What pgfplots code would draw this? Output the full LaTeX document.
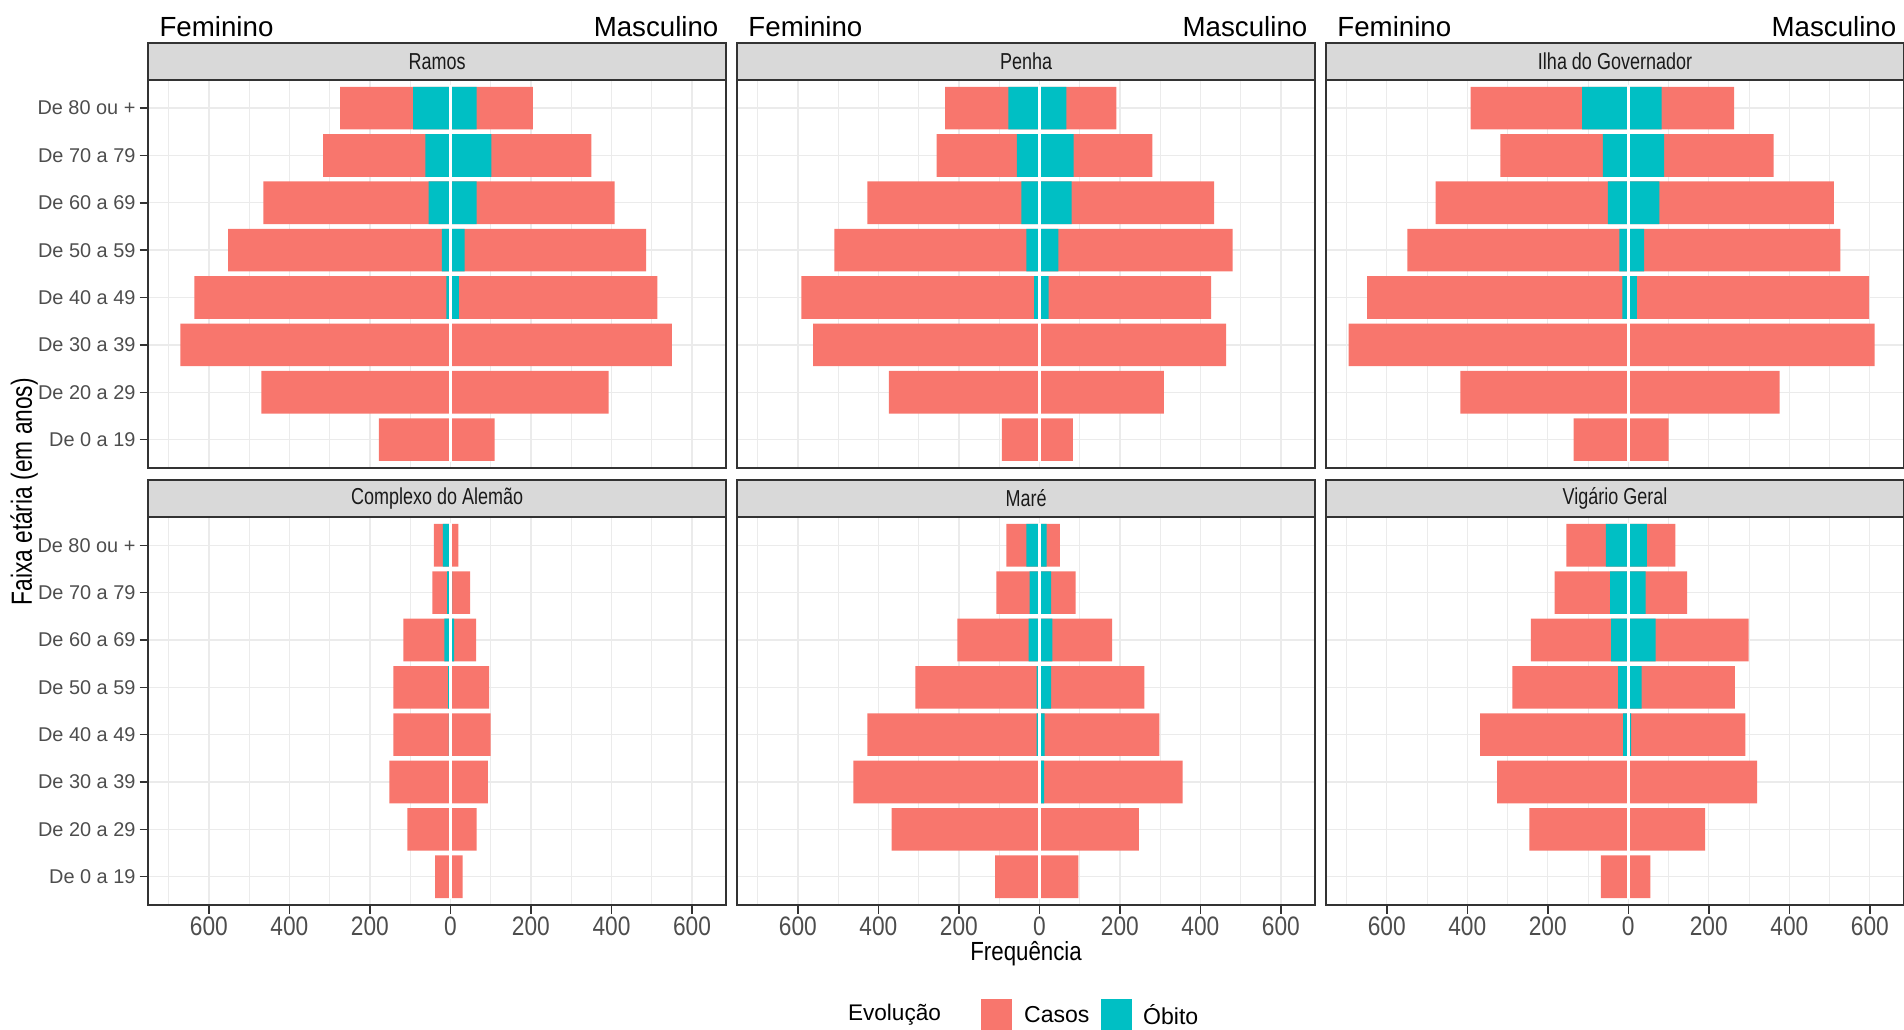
\documentclass[border=0pt]{standalone}
\usepackage{fontspec}
\setmainfont{Liberation Sans}
\newfontfamily\stripfont{Liberation Sans}[FakeStretch=0.78]
\newfontfamily\tickfont{Liberation Sans}[FakeStretch=0.85]
\usepackage{pgfplots}
\pgfplotsset{compat=1.18}
\usepackage{pgfplotstable}

\definecolor{casos}{HTML}{F8766D}
\definecolor{obito}{HTML}{00BFC4}
\definecolor{grey10}{HTML}{1A1A1A}
\definecolor{grey20}{HTML}{333333}
\definecolor{grey30}{HTML}{4D4D4D}
\definecolor{grey85}{HTML}{D9D9D9}
\definecolor{grey92}{HTML}{EBEBEB}

% y: age class (1 = 0-19 ... 8 = 80+); fc/fo: female cases/deaths; mc/mo: male cases/deaths
\pgfplotstableread{
y fc fo mc mo
1 178 0 110 0
2 470 0 393 0
3 671 2 550 2
4 636 10 514 21
5 552 21 486 35
6 465 54 408 65
7 316 62 350 102
8 274 93 205 65
}\ramos
\pgfplotstableread{
y fc fo mc mo
1 93 0 83 0
2 374 0 309 0
3 562 3 464 3
4 591 13 427 23
5 509 32 480 47
6 427 45 434 80
7 255 56 281 85
8 234 77 191 67
}\penha
\pgfplotstableread{
y fc fo mc mo
1 136 0 100 0
2 417 0 376 0
3 695 2 612 2
4 649 15 598 21
5 549 22 527 39
6 479 51 511 77
7 318 63 361 89
8 392 115 263 83
}\ilha
\pgfplotstableread{
y fc fo mc mo
1 38 0 30 0
2 107 0 65 0
3 152 1 93 1
4 142 4 100 2
5 142 6 96 3
6 117 15 64 9
7 45 8 49 4
8 41 19 20 3
}\alemao
\pgfplotstableread{
y fc fo mc mo
1 110 0 97 0
2 367 0 247 0
3 462 3 356 12
4 427 7 298 13
5 308 7 261 29
6 204 27 181 32
7 107 24 90 29
8 82 32 51 18
}\mare
\pgfplotstableread{
y fc fo mc mo
1 68 0 55 0
2 246 0 191 0
3 326 2 320 4
4 368 13 291 7
5 288 25 265 33
6 242 43 299 68
7 183 45 146 43
8 154 56 117 46
}\vigario

\pgfplotsset{
  pyr/.style={
    scale only axis, width=238pt, height=159.9pt,
    anchor=south west,
    xmin=-751, xmax=685, ymin=0.4, ymax=8.6,
    xtick={-600,-400,...,600},
    xticklabels={600,400,200,0,200,400,600},
    minor xtick={-700,-500,...,700},
    ytick={1,...,8},
    yticklabels={De 0 a 19,De 20 a 29,De 30 a 39,De 40 a 49,De 50 a 59,De 60 a 69,De 70 a 79,De 80 ou +},
    xmajorgrids, xminorgrids, ymajorgrids,
    major grid style={grey92, line width=0.55pt},
    minor grid style={grey92, line width=0.3pt},
    axis line style={grey20, line width=0.8pt},
    tick style={grey20, line width=0.6pt},
    tick align=outside, major tick length=3.5pt, minor tick length=0pt,
    xtick pos=bottom, ytick pos=left,
    xticklabel style={font=\tickfont\fontsize{11}{12}\selectfont, text=grey30, inner sep=1pt},
    yticklabel style={font=\fontsize{8.2}{9}\selectfont, text=grey30, inner sep=1.5pt},
  },
  barC/.style={xbar, bar width=0.9, bar shift=0pt, fill=casos, draw=none},
  barO/.style={xbar, bar width=0.9, bar shift=0pt, fill=obito, draw=none},
}

% #1 table, #2 axis name, #3 x, #4 y, #5 facet title, #6 extra axis options
\newcommand{\panel}[6]{%
  \begin{axis}[pyr, name=#2, at={(#3,#4)}, #6]
    \addplot[barC] table[x expr=-\thisrow{fc}, y=y] {#1};
    \addplot[barC] table[x=mc, y=y] {#1};
    \addplot[barO] table[x expr=-\thisrow{fo}, y=y] {#1};
    \addplot[barO] table[x=mo, y=y] {#1};
    % white divider between the two sides
    \addplot[white, line width=1.3pt] coordinates {(0,0.52) (0,8.48)};
  \end{axis}
  \draw[grey20, fill=grey85, line width=0.8pt] (#2.north west) rectangle ([yshift=15pt]#2.north east);
  \node[font=\stripfont\fontsize{9.5}{11}\selectfont, text=grey10]
    at ([yshift=7.5pt]#2.north) {#5};
}

\begin{document}
\begin{tikzpicture}
  \useasboundingbox (0,0) rectangle (784pt,-424pt);

  \panel{\ramos}{p1}{61pt}{-192.7pt}{Ramos}{xmajorticks=false}
  \panel{\penha}{p2}{303.5pt}{-192.7pt}{Penha}{xmajorticks=false, ymajorticks=false}
  \panel{\ilha}{p3}{546pt}{-192.7pt}{Ilha do Governador}{xmajorticks=false, ymajorticks=false}
  \panel{\alemao}{p4}{61pt}{-372.7pt}{Complexo do Alemão}{}
  \panel{\mare}{p5}{303.5pt}{-372.7pt}{Maré}{ymajorticks=false}
  \panel{\vigario}{p6}{546pt}{-372.7pt}{Vigário Geral}{ymajorticks=false}

  % side headings over the top row
  \foreach \p in {p1,p2,p3}{
    \node[anchor=base west, font=\fontsize{11.4}{13}\selectfont, inner sep=0pt]
      at ([xshift=4.5pt, yshift=17.8pt]\p.north west) {Feminino};
    \node[anchor=base east, font=\fontsize{11.4}{13}\selectfont, inner sep=0pt]
      at ([xshift=-3pt, yshift=17.8pt]\p.north east) {Masculino};
  }

  % axis titles
  \node[font=\tickfont\fontsize{10.8}{12}\selectfont] at (422.5pt,-392.5pt) {Frequência};
  \node[rotate=90, font=\stripfont\fontsize{12}{13}\selectfont] at (10pt,-202.5pt) {Faixa etária (em anos)};

  % legend
  \node[anchor=west, font=\fontsize{9.3}{11}\selectfont, inner sep=0pt] at (349pt,-417.8pt) {Evolução};
  \fill[casos] (404pt,-411.5pt) rectangle (416.5pt,-424pt);
  \node[anchor=west, font=\fontsize{9.5}{11}\selectfont, inner sep=0pt] at (421.5pt,-417.8pt) {Casos};
  \fill[obito] (453.5pt,-411.5pt) rectangle (466pt,-424pt);
  \node[anchor=west, font=\fontsize{9.5}{11}\selectfont, inner sep=0pt] at (470.5pt,-417.8pt) {Óbito};
\end{tikzpicture}
\end{document}
